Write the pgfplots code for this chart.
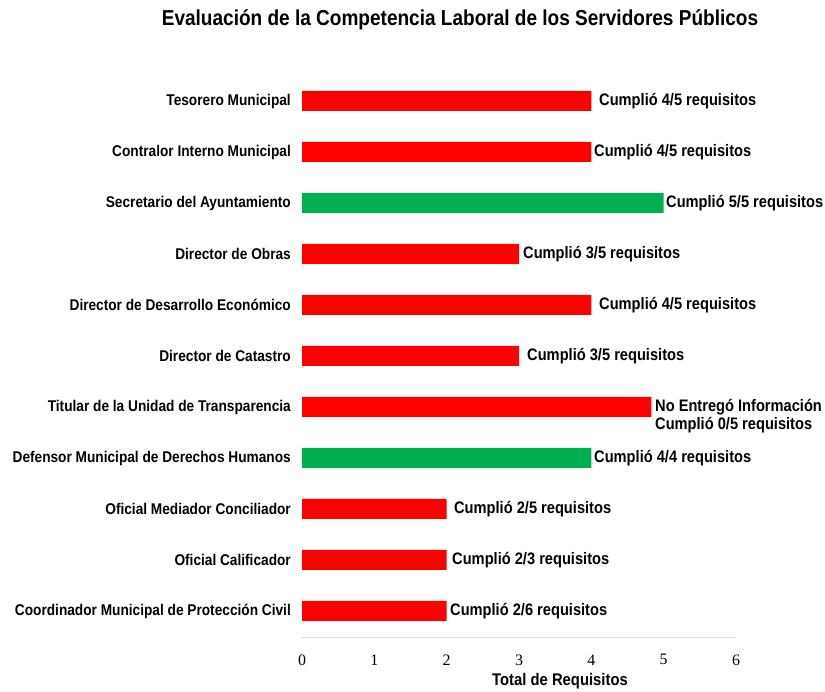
\documentclass[border=0pt]{standalone}
\usepackage{pgfplots}
\pgfplotsset{compat=1.18}
\usepackage{fontspec}
\setmainfont{Liberation Sans}[FakeStretch=0.88]
\newfontfamily\tickfont{Liberation Serif}
\definecolor{barred}{RGB}{255,0,0}
\definecolor{bargreen}{RGB}{0,176,80}
\begin{document}
\begin{tikzpicture}
\path[use as bounding box] (0,0) rectangle (825bp,692bp);
\begin{axis}[
  at={(302bp,55bp)}, anchor=south west,
  scale only axis, width=434bp, height=561.5bp,
  xmin=0, xmax=6, ymin=-0.51, ymax=10.5,
  xbar, bar width=20bp,
  axis x line=bottom, axis y line=left,
  x axis line style={draw=black!15, line width=0.8pt, -},
  y axis line style={draw=none},
  xtick={0,1,2,3,4,5,6}, major tick length=0pt,
  xticklabel style={font=\tickfont\fontsize{16}{16}\selectfont, yshift=-14bp},
  /pgf/number format/assume math mode=true,
  ytick={0,...,10},
  yticklabels={Coordinador Municipal de Protección Civil, Oficial Calificador\ , Oficial Mediador Conciliador, Defensor Municipal de Derechos Humanos, Titular de la Unidad de Transparencia, Director de Catastro, Director de Desarrollo Económico, Director de Obras, Secretario del Ayuntamiento, Contralor Interno Municipal, Tesorero Municipal},
  yticklabel style={font=\bfseries\fontsize{15.6}{15.6}\selectfont, anchor=east, inner sep=0pt, xshift=-11bp},
  xlabel={Total de Requisitos},
  xlabel style={font=\bfseries\fontsize{16.9}{16.9}\selectfont, at={(axis cs:3.567,-0.51)}, anchor=north, yshift=-36bp, inner sep=0pt},
  clip=false,
]
\addplot[fill=barred, draw=none, bar shift=0pt] coordinates {
  (2,0) (2,1) (2,2) (4.83,4) (3,5) (4,6) (3,7) (4,9) (4,10)
};
\addplot[fill=bargreen, draw=none, bar shift=0pt] coordinates {
  (4,3) (5,8)
};
\begin{scope}[every node/.style={anchor=west, inner sep=0pt, font=\bfseries\fontsize{16.7}{16.7}\selectfont}]
\node at (axis cs:4.106,10) {Cumplió 4/5 requisitos};
\node at (axis cs:4.037,9) {Cumplió 4/5 requisitos};
\node at (axis cs:5.032,8) {Cumplió 5/5 requisitos};
\node at (axis cs:3.055,7) {Cumplió 3/5 requisitos};
\node at (axis cs:4.106,6) {Cumplió 4/5 requisitos};
\node at (axis cs:3.111,5) {Cumplió 3/5 requisitos};
\node at (axis cs:4.880,4) {No Entregó Información};
\node at (axis cs:4.880,3.647) {Cumplió 0/5 requisitos};
\node at (axis cs:4.037,3) {Cumplió 4/4 requisitos};
\node at (axis cs:2.101,2) {Cumplió 2/5 requisitos};
\node at (axis cs:2.074,1) {Cumplió 2/3 requisitos};
\node at (axis cs:2.046,0) {Cumplió 2/6 requisitos};
\end{scope}
\end{axis}
\node[font=\bfseries\fontsize{21.7}{21.7}\selectfont] at (460bp,672bp) {Evaluación de la Competencia Laboral de los Servidores Públicos};
\end{tikzpicture}
\end{document}
